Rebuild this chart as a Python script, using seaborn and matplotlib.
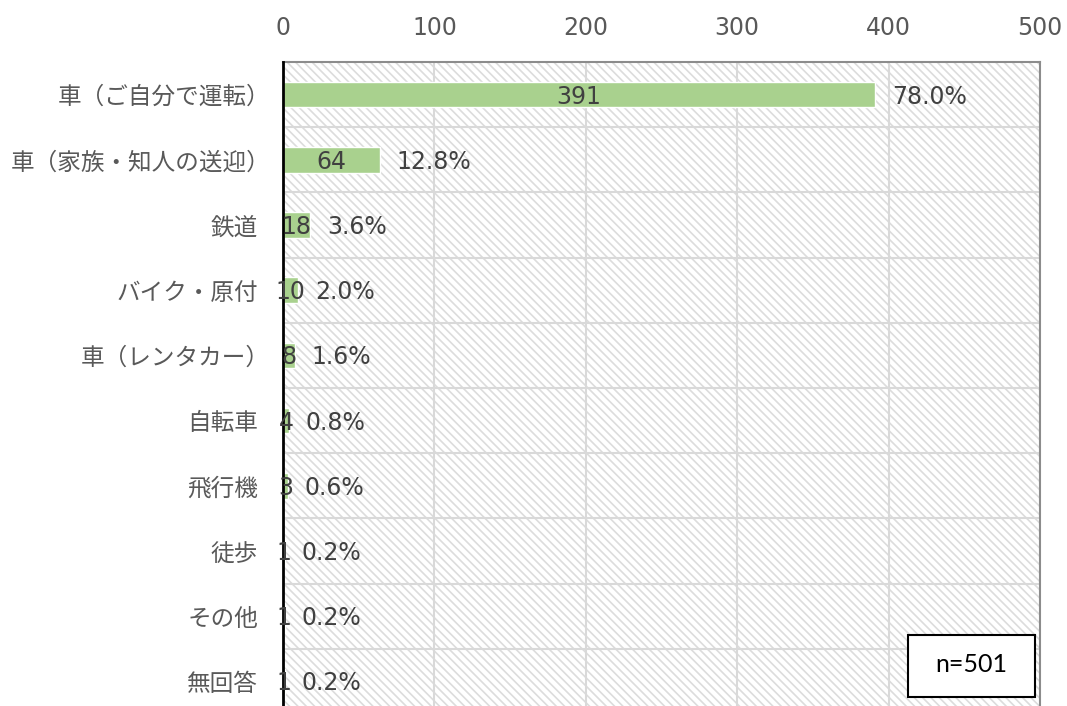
import matplotlib
matplotlib.use("Agg")
import matplotlib.pyplot as plt
import matplotlib.patches as mpatches
from matplotlib.transforms import ScaledTranslation
import seaborn as sns
import pandas as pd

# Transport modes and responses
categories = [
    "車（ご自分で運転）",
    "車（家族・知人の送迎）",
    "鉄道",
    "バイク・原付",
    "車（レンタカー）",
    "自転車",
    "飛行機",
    "徒歩",
    "その他",
    "無回答",
]
counts = [391, 64, 18, 10, 8, 4, 3, 1, 1, 1]
percents = [78.0, 12.8, 3.6, 2.0, 1.6, 0.8, 0.6, 0.2, 0.2, 0.2]
x_ticks = [0, 100, 200, 300, 400, 500]
sample_label = "n=501"

sns.set_theme(style="white")
plt.rcParams["font.family"] = ["DejaVu Sans", "Noto Sans CJK JP"]
plt.rcParams["hatch.linewidth"] = 1.2

df = pd.DataFrame({"mode": categories, "count": counts})

fig = plt.figure(figsize=(10.67, 7.06), dpi=100)
ax = fig.add_axes([283 / 1067, 1 - 62 / 706 - 652 / 706, 757 / 1067, 652 / 706])

# Hatched plot-area background
ax.set_facecolor("white")
bg = mpatches.Rectangle((0, 0), 1, 1, transform=ax.transAxes, facecolor="white",
                        edgecolor="#dcdcdc", hatch="\\" * 4, linewidth=0, zorder=0)
ax.add_patch(bg)

sns.barplot(data=df, x="count", y="mode", orient="h", color="#a9d18e",
            width=0.39, saturation=1, ax=ax, zorder=3)

ax.set_xlim(0, 500)
ax.set_ylim(len(categories) - 0.5, -0.5)
ax.set_xticks(x_ticks)
ax.xaxis.tick_top()
ax.tick_params(axis="x", length=0, pad=16, labelsize=17, labelcolor="#595959")
ax.tick_params(axis="y", length=0, pad=18, labelsize=17, labelcolor="#595959")
ax.set_xlabel("")
ax.set_ylabel("")

# The full-width closing bracket carries trailing blank space; nudge those labels
# so their visible ink lines up with the others.
nudge = ScaledTranslation(12 / 100, 0, fig.dpi_scale_trans)
for lbl in ax.get_yticklabels():
    if lbl.get_text().endswith("）"):
        lbl.set_transform(lbl.get_transform() + nudge)

# Grid lines
for xv in x_ticks[1:]:
    ax.axvline(xv, color="#d9d9d9", lw=1.5, zorder=1)
for i in range(len(categories) - 1):
    ax.axhline(i + 0.5, color="#d9d9d9", lw=1.5, zorder=1)

for side in ["top", "right"]:
    ax.spines[side].set_visible(True)
    ax.spines[side].set_color("#8c8c8c")
    ax.spines[side].set_linewidth(1.5)
ax.spines["bottom"].set_visible(False)
ax.spines["left"].set_color("black")
ax.spines["left"].set_linewidth(2)
ax.spines["left"].set_zorder(5)

# Value labels: count centred on bar, share to the right of bar
for i, (c, p) in enumerate(zip(counts, percents)):
    ax.annotate(f"{c}", xy=(c / 2, i), xytext=(0, -1.5), textcoords="offset points",
                ha="center", va="center", fontsize=17, color="#404040", zorder=6)
    ax.annotate(f"{p:.1f}%", xy=(c, i), xytext=(12, -1.5), textcoords="offset points",
                ha="left", va="center", fontsize=17, color="#404040", zorder=6)

# Sample size box
box = mpatches.Rectangle((908 / 1067, 1 - 697 / 706), 127 / 1067, 62 / 706,
                         transform=fig.transFigure, facecolor="white",
                         edgecolor="black", linewidth=1.5, zorder=10)
fig.patches.append(box)
fig.text((908 + 63.5) / 1067, 1 - 664 / 706, sample_label, ha="center", va="center",
         fontsize=18, color="black", family=["Lato", "DejaVu Sans"], zorder=11)

fig.savefig("out.png", dpi=100)
